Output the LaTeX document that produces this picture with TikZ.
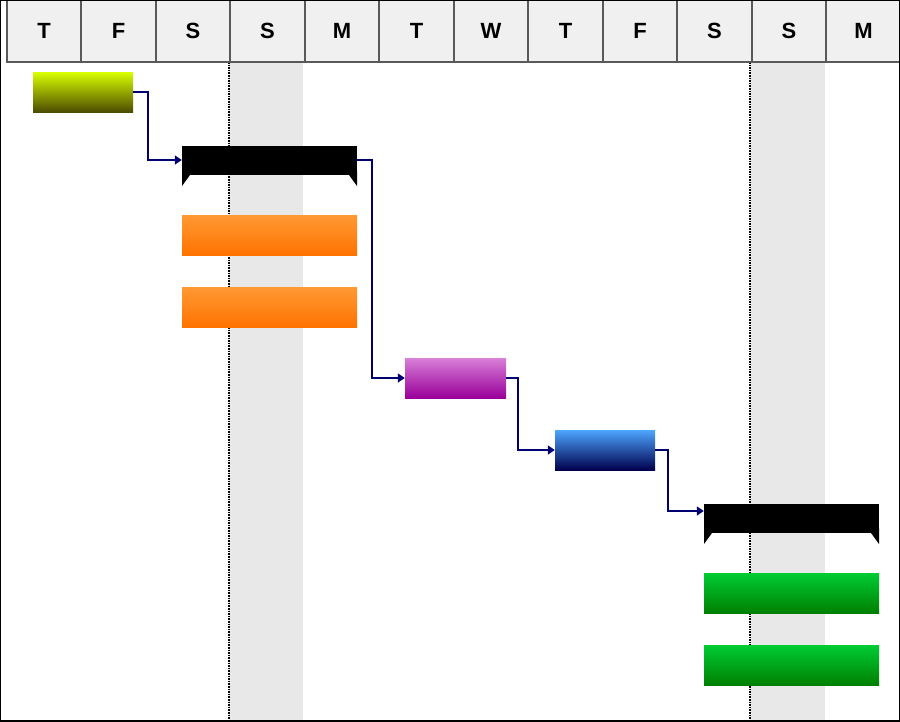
\documentclass[tikz,border=0pt]{standalone}
\usepackage{fontspec}
\setmainfont{Liberation Sans}
\usetikzlibrary{arrows.meta}
\tikzset{
  day/.style={draw=gray!70!black, line width=1.2pt, fill=gray!12, minimum width=74pt, minimum height=62pt, inner sep=0pt, font=\bfseries\fontsize{22}{22}\selectfont},
  bar/.style={inner sep=0pt, minimum height=40pt, draw=none},
  summary/.style={fill=black, inner sep=0pt, minimum height=29pt, minimum width=175pt},
  link/.style={draw=blue!45!black, line width=1.6pt, -{Triangle[length=7pt,width=9pt]}},
}
\begin{document}
\begin{tikzpicture}[x=1pt, y=-1pt]
    \useasboundingbox (0,0) rectangle (900,721);
    \fill[white] (0,0) rectangle (900,721);

    % Wochenenden
    \fill[gray!18] (229,62) rectangle (303,721);
    \fill[gray!18] (750,62) rectangle (825,721);
    \draw[densely dotted, line width=1.6pt] (229,62) -- (229,721);
    \draw[densely dotted, line width=1.6pt] (750,62) -- (750,721);

    % Kopfzeile
    \foreach \d [count=\i from 0] in {T,F,S,S,M,T,W,T,F,S,S,M}
      \node[day] (d\i) at ({44+74.5*\i},31) {\d};

    % Balken
    \node[bar, minimum width=100pt, top color=yellow!85!green, bottom color=olive!60!black] (prep) at (83,92) {};
    \node[summary] (sumA) at (269.5,160) {};
    \fill (182,170) -- (182,186) -- (190,175) -- cycle;
    \fill (357,170) -- (357,186) -- (349,175) -- cycle;
    \node[bar, minimum width=175pt, top color=orange!80, bottom color=orange!90!red] (taskA) at (269.5,235) {};
    \node[bar, minimum width=175pt, top color=orange!80, bottom color=orange!90!red] (taskB) at (269.5,307) {};
    \node[bar, minimum width=101pt, top color=magenta!40!violet!50, bottom color=violet!80!magenta] (review) at (455.5,378) {};
    \node[bar, minimum width=100pt, top color=cyan!50!blue!70, bottom color=blue!30!black] (test) at (605,450) {};
    \node[summary] (sumB) at (791.5,518) {};
    \fill (704,528) -- (704,544) -- (712,533) -- cycle;
    \fill (879,528) -- (879,544) -- (871,533) -- cycle;
    \node[bar, minimum width=175pt, top color=green!60!teal, bottom color=green!50!black] (taskC) at (791.5,593) {};
    \node[bar, minimum width=175pt, top color=green!60!teal, bottom color=green!50!black] (taskD) at (791.5,665) {};

    % Verbindungen
    \draw[link] (prep.east) -- ++(15,0) |- (sumA.west);
    \draw[link] (sumA.east) -- ++(15,0) |- (review.west);
    \draw[link] (review.east) -- ++(12,0) |- (test.west);
    \draw[link] (test.east) -- ++(13,0) |- ([yshift=7pt]sumB.west);

    \draw[line width=1.5pt] (0,0) rectangle (900,721);
\end{tikzpicture}
\end{document}
